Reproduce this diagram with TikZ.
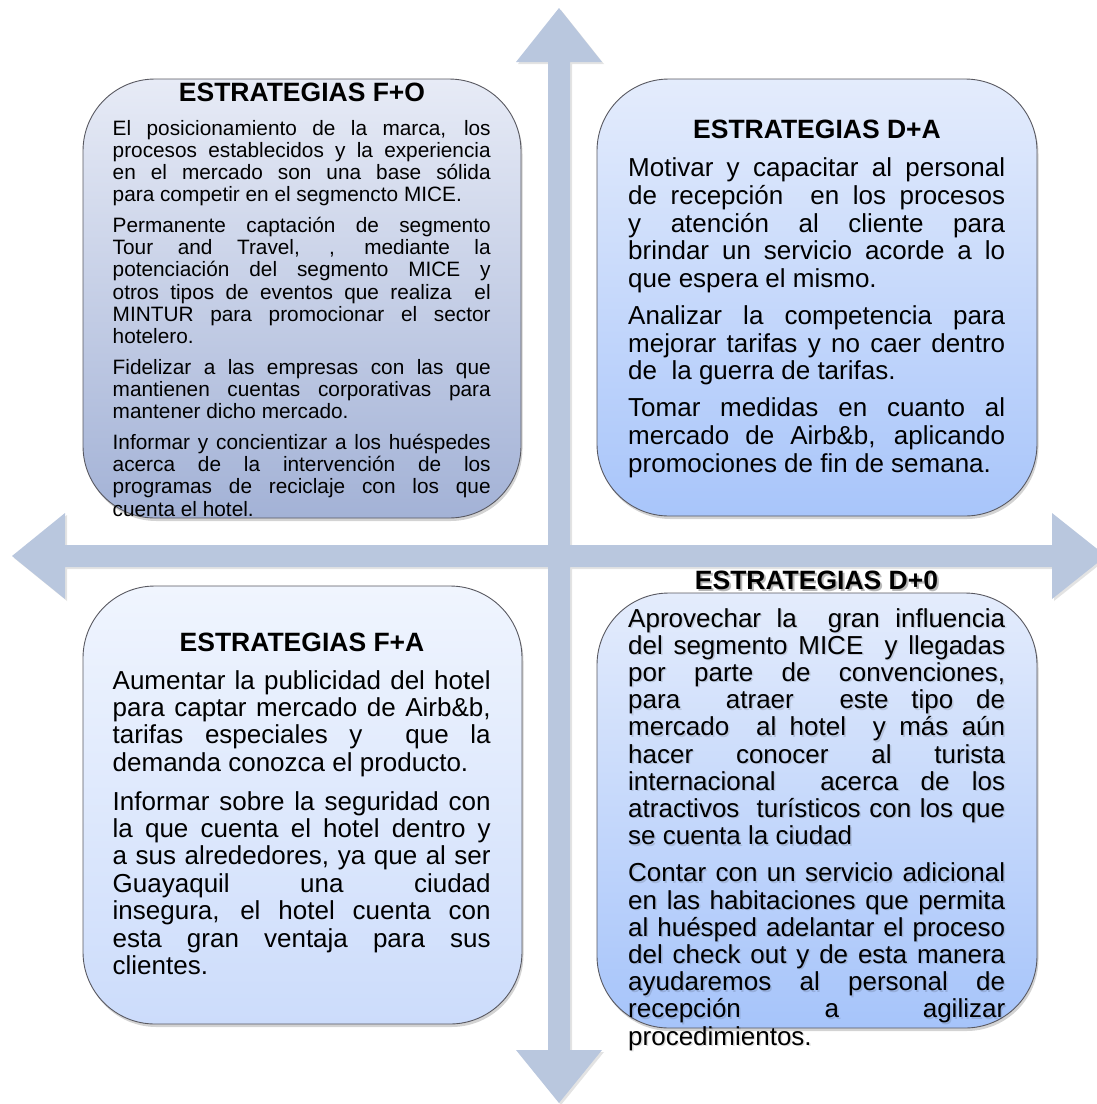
\documentclass[tikz,border=0pt]{standalone}
\usepackage{fontspec}
\setmainfont{Liberation Sans}
\usetikzlibrary{shadows}

\definecolor{flecha}{RGB}{185,199,222}
\definecolor{borde}{RGB}{88,88,96}
\definecolor{foTop}{RGB}{231,235,246}
\definecolor{foBot}{RGB}{163,178,214}
\definecolor{daTop}{RGB}{228,236,252}
\definecolor{daBot}{RGB}{168,197,250}
\definecolor{faTop}{RGB}{240,245,254}
\definecolor{faBot}{RGB}{204,220,251}
\definecolor{doTop}{RGB}{228,236,252}
\definecolor{doBot}{RGB}{166,196,250}

% justified text block: width, font size, baseline skip, paragraph skip, text
\newcommand{\bloque}[5]{\begin{minipage}[t]{#1pt}\fontsize{#2pt}{#3pt}\selectfont
  \setlength{\parskip}{#4pt}\hyphenpenalty=10000 \exhyphenpenalty=10000
  \tolerance=10000 #5\end{minipage}}

\newcommand{\textoDO}{%
Aprovechar la \ gran influencia\linebreak
del segmento MICE \ y llegadas\linebreak
por parte de convenciones,\linebreak
para \ atraer \ este tipo de\linebreak
mercado \ al hotel \ y más aún\linebreak
hacer conocer al turista\linebreak
internacional \ acerca de los\linebreak
atractivos \ turísticos con los que\linebreak
se cuenta la ciudad\par
Contar con un servicio adicional\linebreak
en las habitaciones que permita\linebreak
al huésped adelantar el proceso\linebreak
del check out y de esta manera\linebreak
ayudaremos al personal de\linebreak
recepción a agilizar\linebreak
procedimientos.}

\tikzset{
  caja/.style={draw=borde, line width=0.9pt, rounded corners=72pt,
    inner sep=0pt, shading=axis,
    drop shadow={shadow xshift=1.5pt, shadow yshift=-3pt, opacity=0.35}},
  titulo/.style={anchor=base, inner sep=0pt,
    font=\fontsize{26.5pt}{28pt}\selectfont\bfseries},
  cuerpo/.style={anchor=base west, inner sep=0pt},
  sombratexto/.style={text=black, opacity=0.28},
}

\begin{document}
\begin{tikzpicture}[x=1pt, y=-1pt]
\useasboundingbox (0,0) rectangle (1097,1104);

% four-headed cross of arrows
\fill[flecha, drop shadow={shadow xshift=2pt, shadow yshift=-2pt, opacity=0.22}]
  (559,8) -- (602,62) -- (570,62) -- (570,545) -- (1052,545) -- (1052,513)
  -- (1106,556) -- (1052,599) -- (1052,567) -- (570,567) -- (570,1050)
  -- (602,1050) -- (559,1103) -- (516,1050) -- (548,1050) -- (548,567)
  -- (65,567) -- (65,599) -- (12,556) -- (65,513) -- (65,545) -- (548,545)
  -- (548,62) -- (516,62) -- cycle;

% quadrant boxes
\node[caja, top color=foTop, bottom color=foBot,
  minimum width=438pt, minimum height=439pt] (fo) at (302,298.5) {};
\node[caja, top color=daTop, bottom color=daBot,
  minimum width=440pt, minimum height=437pt] (da) at (817,297.5) {};
\node[caja, top color=faTop, bottom color=faBot,
  minimum width=439pt, minimum height=438pt] (fa) at (302.5,805) {};
\node[caja, top color=doTop, bottom color=doBot,
  minimum width=440pt, minimum height=435pt] (do) at (817,810.5) {};

% F+O
\node[titulo] (foT) at (302,101) {ESTRATEGIAS F+O};
\node[cuerpo] (foC) at (112.5,135) {\bloque{378}{20.8}{22.3}{8.1}{%
El posicionamiento de la marca, los\linebreak
procesos establecidos y la experiencia\linebreak
en el mercado son una base sólida\linebreak
para competir en el segmencto MICE.\par
Permanente captación de segmento\linebreak
Tour and Travel, , mediante la\linebreak
potenciación del segmento MICE y\linebreak
otros tipos de eventos que realiza \ el\linebreak
MINTUR para promocionar el sector\linebreak
hotelero.\par
Fidelizar a las empresas con las que\linebreak
mantienen cuentas corporativas para\linebreak
mantener dicho mercado.\par
Informar y concientizar a los huéspedes\linebreak
acerca de la intervención de los\linebreak
programas de reciclaje con los que\linebreak
cuenta el hotel.}};

% D+A
\node[titulo] (daT) at (817,138) {ESTRATEGIAS D+A};
\node[cuerpo] (daC) at (628,176.5) {\bloque{377}{26}{27.8}{8.8}{%
Motivar y capacitar al personal\linebreak
de recepción \ en los procesos\linebreak
y atención al cliente para\linebreak
brindar un servicio acorde a lo\linebreak
que espera el mismo.\par
Analizar la competencia para\linebreak
mejorar tarifas y no caer dentro\linebreak
de \ la guerra de tarifas.\par
Tomar medidas en cuanto al\linebreak
mercado de Airb\&b, aplicando\linebreak
promociones de fin de semana.}};

% F+A
\node[titulo] (faT) at (302,651.4) {ESTRATEGIAS F+A};
\node[cuerpo] (faC) at (112.5,689) {\bloque{378}{26}{27.4}{11.4}{%
Aumentar la publicidad del hotel\linebreak
para captar mercado de Airb\&b,\linebreak
tarifas especiales y \ que la\linebreak
demanda conozca el producto.\par
Informar sobre la seguridad con\linebreak
la que cuenta el hotel dentro y\linebreak
a sus alrededores, ya que al ser\linebreak
Guayaquil una ciudad\linebreak
insegura, el hotel cuenta con\linebreak
esta gran ventaja para sus\linebreak
clientes.}};

% D+0, text with a soft shadow
\node[titulo, sombratexto] (doTs) at (818.5,591.5) {ESTRATEGIAS D+0};
\node[titulo] (doT) at (816.5,589.7) {ESTRATEGIAS D+0};
\node[cuerpo, sombratexto, opacity=0.12] (doCs) at (629.5,628.5)
  {\bloque{377}{26}{27.2}{10}{\textoDO}};
\node[cuerpo] (doC) at (628,627) {\bloque{377}{26}{27.2}{10}{\textoDO}};
\end{tikzpicture}
\end{document}
